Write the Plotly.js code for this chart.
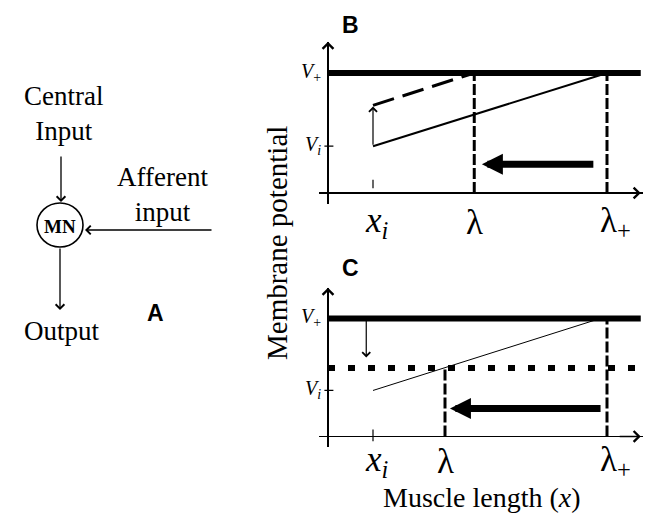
<!DOCTYPE html>
<html>
<head>
<meta charset="utf-8">
<script src="https://cdn.plot.ly/plotly-3.0.1.min.js"></script>
<style>html,body{margin:0;padding:0;background:#fff;}#chart{width:646px;height:513px;}</style>
</head>
<body>
<div id="chart"></div>
<script>
// ---- Data (in diagram units) ----
const xTickLabels = ['<i>x</i><sub><i>i</i></sub>', 'λ', 'λ<sub>+</sub>'];
const yTickLabels = ['<i>V</i><sub>+</sub>', '<i>V</i><sub><i>i</i></sub>'];
const xTicksB = [1.0, 3.25, 6.2];      // x_i, lambda, lambda+
const xTicksC = [1.0, 2.6, 6.2];
const vLevels = [10.0, 3.9];            // V+, Vi
const bSolidX = [1.0, 6.2];
const bSolidY = [3.9, 10.0];
const bDashX = [1.0, 3.25];
const bDashY = [7.3, 10.0];
const bShiftY = [3.9, 7.2];             // upward arrow at x_i
const cThinX = [1.0, 6.05];
const cThinY = [3.9, 10.0];
const cDotY = 5.8;                      // lowered threshold level
const cShiftX = 0.85;
const cShiftY = [10.0, 6.7];            // downward arrow
const bigArrowBX = [5.93, 3.42];
const bigArrowBY = 2.4;
const bigArrowCX = [6.09, 2.71];
const bigArrowCY = 2.37;
const axisEnd = 6.95;
const axisTop = 12.6;

const SERIF = 'Liberation Serif, Times New Roman, serif';
const SANS = 'Liberation Sans, Arial, sans-serif';

function line(x, y, xa, ya, w, dash) {
  return {type:'scatter', mode:'lines', x:x, y:y, xaxis:xa, yaxis:ya,
    line:{color:'#000', width:w, dash:dash||'solid'}, hoverinfo:'skip', showlegend:false};
}

const traces = [];
// Panel B
traces.push(line([0, axisEnd], [vLevels[0], vLevels[0]], 'x', 'y', 6));
traces.push(line(bSolidX, bSolidY, 'x', 'y', 2));
traces.push(line(bDashX, bDashY, 'x', 'y', 3, '22px,9px'));
traces.push(line([xTicksB[1], xTicksB[1]], [0, vLevels[0]], 'x', 'y', 3, '11px,3px'));
traces.push(line([xTicksB[2], xTicksB[2]], [0, vLevels[0]], 'x', 'y', 3, '11px,3px'));
traces.push(line([-0.08, 0.12], [vLevels[1], vLevels[1]], 'x', 'y', 1.2));
traces.push(line([xTicksB[0], xTicksB[0]], [0.4, 1.1], 'x', 'y', 1.2));
// Panel C
traces.push(line([0, axisEnd], [vLevels[0], vLevels[0]], 'x2', 'y2', 6));
traces.push(line([0, axisEnd], [cDotY, cDotY], 'x2', 'y2', 6, '7px,13px'));
traces.push(line(cThinX, cThinY, 'x2', 'y2', 1));
traces.push(line([xTicksC[1], xTicksC[1]], [0, cDotY], 'x2', 'y2', 3, '11px,3px'));
traces.push(line([xTicksC[2], xTicksC[2]], [0, vLevels[0]], 'x2', 'y2', 3, '11px,3px'));
traces.push(line([-0.08, 0.12], [vLevels[1], vLevels[1]], 'x2', 'y2', 1.2));
traces.push(line([xTicksC[0], xTicksC[0]], [-0.4, 0.6], 'x2', 'y2', 1.2));

function arrow(xa, ya, x, y, ax, ay, head, w, size) {
  return {xref:xa, yref:ya, axref:xa, ayref:ya, x:x, y:y, ax:ax, ay:ay, text:'',
    showarrow:true, arrowhead:head, arrowwidth:w, arrowsize:size, arrowcolor:'#000', standoff:0, startstandoff:0};
}
function txt(text, x, y, xref, yref, size, family, extra) {
  return Object.assign({text:text, x:x, y:y, xref:xref, yref:yref, showarrow:false,
    font:{family:family, size:size, color:'#000'}}, extra||{});
}

const ann = [];
// axis arrows
ann.push(arrow('x', 'y', 0, axisTop, 0, axisTop - 1, 4, 1.5, 1.4));
ann.push(arrow('x', 'y', axisEnd, 0, axisEnd - 0.5, 0, 4, 1.5, 1.4));
ann.push(arrow('x2', 'y2', 0, axisTop, 0, axisTop - 1, 4, 1.5, 1.4));
ann.push(arrow('x2', 'y2', axisEnd, 0, axisEnd - 0.5, 0, 4, 1.5, 1.4));
// shift arrows
ann.push(arrow('x', 'y', xTicksB[0], bShiftY[1], xTicksB[0], bShiftY[0], 4, 1.2, 1.3));
ann.push(arrow('x2', 'y2', cShiftX, cShiftY[1], cShiftX, cShiftY[0], 4, 1.2, 1.3));
// big left arrows
ann.push(arrow('x', 'y', bigArrowBX[1], bigArrowBY, bigArrowBX[0], bigArrowBY, 2, 7, 0.6));
ann.push(arrow('x2', 'y2', bigArrowCX[1], bigArrowCY, bigArrowCX[0], bigArrowCY, 2, 7, 0.6));
// y tick labels
[['x','y'],['x2','y2']].forEach(function(p){
  vLevels.forEach(function(v, i){
    ann.push(txt(yTickLabels[i], 0, v, p[0], p[1], 20, SERIF, {xanchor:'right', xshift:-5, yshift:1}));
  });
});
// x tick labels
xTicksB.forEach(function(v, i){
  ann.push(txt(xTickLabels[i], v, 1 - 222/513, 'x', 'paper', 35, SERIF, {yanchor:'middle', xshift: i===2?8:(i===0?4:0)}));
});
xTicksC.forEach(function(v, i){
  ann.push(txt(xTickLabels[i], v, 1 - 461/513, 'x2', 'paper', 35, SERIF, {yanchor:'middle', xshift: i===2?8:(i===0?4:0)}));
});
// titles & panel labels
ann.push(txt('Muscle length (<i>x</i>)', 482/646, 1 - 497/513, 'paper', 'paper', 28, SERIF, {xanchor:'center', yanchor:'middle'}));
ann.push(txt('Membrane potential', 277/646, 1 - 243/513, 'paper', 'paper', 29, SERIF, {textangle:-90, xanchor:'center', yanchor:'middle'}));
ann.push(txt('<b>B</b>', 350/646, 1 - 25/513, 'paper', 'paper', 23, SANS, {xanchor:'center', yanchor:'middle'}));
ann.push(txt('<b>C</b>', 350/646, 1 - 268/513, 'paper', 'paper', 23, SANS, {xanchor:'center', yanchor:'middle'}));

// Panel A (schematic, pixel-like axis x3/y3)
ann.push(txt('Central<br>Input', 63, 113, 'x3', 'y3', 27, SERIF, {xanchor:'center', yanchor:'middle'}));
ann.push(txt('Afferent<br>input', 162, 194, 'x3', 'y3', 27, SERIF, {xanchor:'center', yanchor:'middle'}));
ann.push(txt('Output', 62, 331, 'x3', 'y3', 27, SERIF, {xanchor:'center', yanchor:'middle'}));
ann.push(txt('<b>MN</b>', 60, 226, 'x3', 'y3', 19, SERIF, {xanchor:'center', yanchor:'middle'}));
ann.push(txt('<b>A</b>', 155, 313, 'x3', 'y3', 23, SANS, {xanchor:'center', yanchor:'middle'}));
ann.push(arrow('x3', 'y3', 61, 202, 61, 155, 4, 1.3, 1.3));
ann.push(arrow('x3', 'y3', 85, 230, 213, 230, 4, 1.3, 1.3));
ann.push(arrow('x3', 'y3', 60, 310, 60, 247, 4, 1.3, 1.3));

const shapes = [
  {type:'circle', xref:'x3', yref:'y3', x0:37, x1:83, y0:203, y1:247, line:{color:'#000', width:1.6}}
];

const domX = [319/646, 643/646];
const layout = {
  width:646, height:513, margin:{l:0, r:0, t:0, b:0},
  paper_bgcolor:'#fff', plot_bgcolor:'rgba(0,0,0,0)', showlegend:false,
  xaxis:{domain:domX, range:[-0.2, 7.0], anchor:'y', showgrid:false, showticklabels:false, ticks:'',
    zeroline:true, zerolinecolor:'#000', zerolinewidth:1.5, showline:false, fixedrange:true},
  yaxis:{domain:[1-203.8/513, 1-41.8/513], range:[-0.9, axisTop], anchor:'x', showgrid:false, showticklabels:false, ticks:'',
    zeroline:true, zerolinecolor:'#000', zerolinewidth:1.5, showline:false, fixedrange:true},
  xaxis2:{domain:domX, range:[-0.2, 7.0], anchor:'y2', showgrid:false, showticklabels:false, ticks:'',
    zeroline:true, zerolinecolor:'#000', zerolinewidth:1.5, showline:false, fixedrange:true},
  yaxis2:{domain:[1-447.1/513, 1-287.8/513], range:[-0.9, axisTop], anchor:'x2', showgrid:false, showticklabels:false, ticks:'',
    zeroline:true, zerolinecolor:'#000', zerolinewidth:1.5, showline:false, fixedrange:true},
  xaxis3:{domain:[0, 300/646], range:[0, 300], anchor:'y3', visible:false, fixedrange:true},
  yaxis3:{domain:[0, 1], range:[513, 0], anchor:'x3', visible:false, fixedrange:true},
  annotations:ann, shapes:shapes
};

Plotly.newPlot('chart', traces, layout, {staticPlot:true, displayModeBar:false});
</script>
</body>
</html>
